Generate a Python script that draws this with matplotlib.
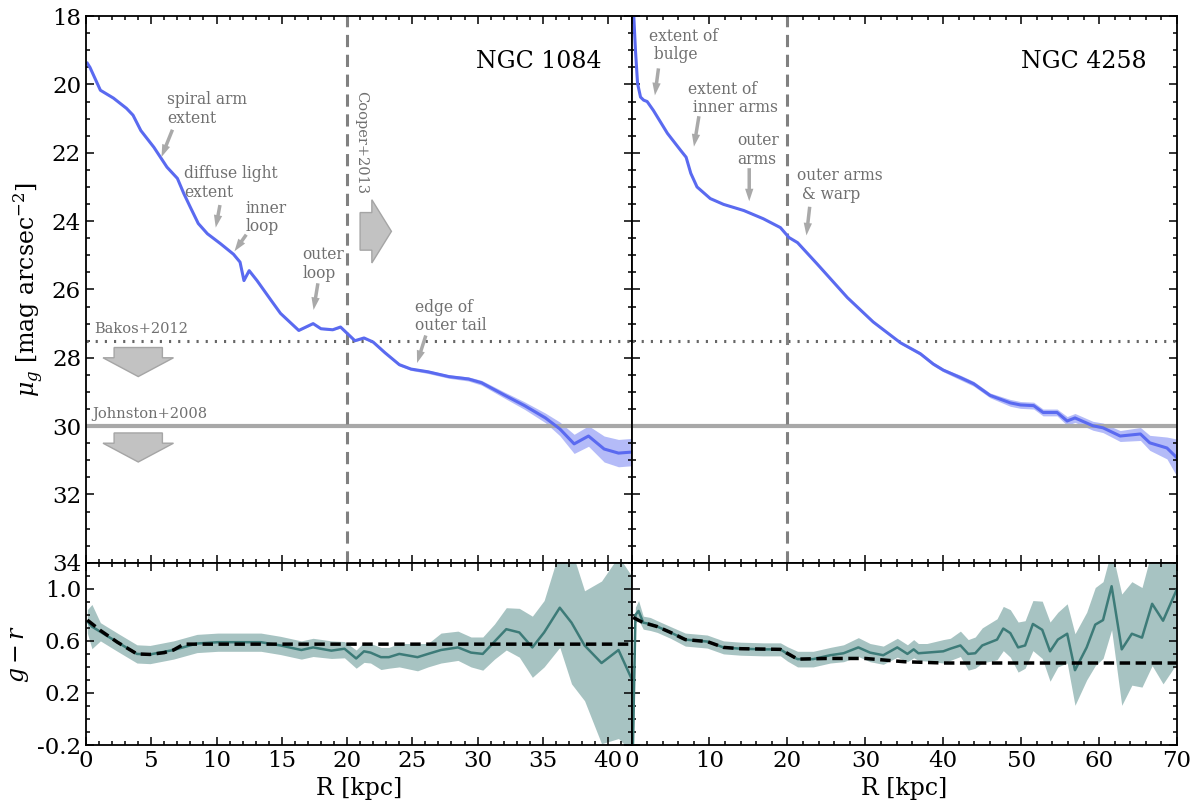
import matplotlib
matplotlib.use("Agg")
import matplotlib.pyplot as plt
import numpy as np
from matplotlib.ticker import MultipleLocator

plt.rcParams.update({
    "font.family": "serif",
    "font.serif": ["DejaVu Serif"],
    "mathtext.fontset": "dejavuserif",
    "axes.unicode_minus": False,
    "xtick.direction": "in",
    "ytick.direction": "in",
    "xtick.top": True,
    "ytick.right": True,
    "xtick.major.size": 6,
    "ytick.major.size": 6,
    "xtick.minor.size": 3,
    "ytick.minor.size": 3,
    "axes.linewidth": 1.3,
})

# --- NGC 1084 surface brightness profile ---
r_1084 = [0.1, 0.3, 1.1, 2.1, 3.1, 3.6, 4.2, 5.2, 6.2, 7.0, 7.5, 8.0, 8.6, 9.3, 10.3,
          11.3, 11.8, 12.1, 12.5, 13.1, 14.2, 14.9, 16.3, 17.4, 18.0, 18.9, 19.5, 20.6,
          21.3, 22.0, 22.9, 24.0, 24.9, 26.2, 27.8, 29.3, 30.3, 32.1, 33.6, 35.2, 36.3,
          37.4, 38.5, 39.7, 40.8, 41.8]
mu_1084 = [19.38, 19.5, 20.17, 20.4, 20.7, 20.9, 21.35, 21.84, 22.42, 22.75, 23.2, 23.6,
           24.07, 24.37, 24.66, 24.97, 25.2, 25.74, 25.45, 25.74, 26.33, 26.7, 27.2, 27.0,
           27.15, 27.18, 27.1, 27.5, 27.42, 27.54, 27.85, 28.2, 28.33, 28.41, 28.55, 28.62,
           28.73, 29.1, 29.4, 29.76, 30.08, 30.52, 30.29, 30.67, 30.79, 30.76]
mu_err_1084 = [0.02] * 26 + [0.03, 0.03, 0.03, 0.03, 0.03, 0.04, 0.04, 0.05, 0.05, 0.06,
                             0.07, 0.09, 0.11, 0.14, 0.2, 0.28, 0.3, 0.38, 0.4, 0.4]

# --- NGC 4258 surface brightness profile ---
r_4258 = [0.2, 0.5, 0.77, 1.15, 1.55, 2.0, 2.8, 4.6, 6.3, 7.0, 7.6, 8.4, 10.1, 11.8, 14.4,
          16.9, 19.1, 20.2, 21.3, 23.8, 27.7, 31.0, 34.5, 37.05, 38.7, 40.0, 42.2, 43.9,
          46.0, 48.6, 49.9, 51.6, 52.8, 54.6, 55.9, 56.9, 59.2, 60.5, 62.7, 65.3, 66.5,
          68.7, 70.0]
mu_4258 = [17.6, 19.0, 19.97, 20.37, 20.46, 20.5, 20.76, 21.43, 21.93, 22.13, 22.6, 23.0,
           23.34, 23.51, 23.69, 23.93, 24.19, 24.48, 24.63, 25.25, 26.24, 26.95, 27.56,
           27.88, 28.18, 28.36, 28.58, 28.76, 29.1, 29.32, 29.38, 29.4, 29.6, 29.6, 29.85,
           29.76, 29.99, 30.05, 30.29, 30.23, 30.49, 30.64, 30.93]
mu_err_4258 = [0.02] * 21 + [0.03, 0.03, 0.05, 0.05, 0.05, 0.07, 0.07, 0.07, 0.1, 0.1,
                             0.1, 0.1, 0.1, 0.13, 0.13, 0.13, 0.14, 0.16, 0.19, 0.22,
                             0.32, 0.55]

# --- NGC 1084 g-r colour profile ---
rc_1084 = [0.1, 0.45, 1.1, 2.4, 3.9, 4.9, 6.7, 8.5, 10.1, 13.4, 14.9, 16.5, 17.4, 18.8,
           19.8, 20.7, 21.3, 21.8, 22.6, 23.2, 24.0, 25.4, 26.2, 27.2, 28.5, 29.5, 30.4,
           31.3, 32.2, 33.2, 34.2, 35.1, 36.3, 37.2, 38.2, 39.5, 40.8, 41.8]
gr_1084 = [0.75, 0.71, 0.67, 0.59, 0.50, 0.496, 0.53, 0.58, 0.59, 0.59, 0.565, 0.53, 0.55,
           0.525, 0.54, 0.465, 0.52, 0.51, 0.475, 0.475, 0.50, 0.475, 0.50, 0.53, 0.55,
           0.51, 0.50, 0.595, 0.69, 0.665, 0.55, 0.665, 0.855, 0.74, 0.565, 0.43, 0.53, 0.31]
gr_lo_1084 = [0.66, 0.54, 0.60, 0.52, 0.43, 0.425, 0.46, 0.51, 0.52, 0.52, 0.495, 0.46,
              0.48, 0.465, 0.47, 0.39, 0.435, 0.43, 0.38, 0.39, 0.40, 0.37, 0.40, 0.43,
              0.45, 0.40, 0.375, 0.46, 0.53, 0.475, 0.32, 0.40, 0.55, 0.27, 0.14, -0.19,
              -0.15, -0.25]
gr_hi_1084 = [0.84, 0.88, 0.74, 0.66, 0.57, 0.565, 0.60, 0.65, 0.66, 0.66, 0.635, 0.60,
              0.62, 0.60, 0.595, 0.53, 0.59, 0.58, 0.55, 0.55, 0.58, 0.58, 0.58, 0.66,
              0.675, 0.63, 0.63, 0.73, 0.855, 0.85, 0.79, 0.91, 1.3, 1.3, 0.985, 1.06,
              1.25, 1.1]
rfit_1084 = [0.1, 1.1, 2.4, 3.9, 4.9, 6.0, 6.7, 7.5, 41.8]
grfit_1084 = [0.76, 0.68, 0.59, 0.50, 0.496, 0.51, 0.53, 0.575, 0.575]

# --- NGC 4258 g-r colour profile ---
rc_4258 = [0.05, 0.5, 0.9, 1.5, 2.4, 3.3, 5.0, 6.9, 9.7, 11.8, 14.0, 16.9, 19.1, 20.0,
           21.3, 23.3, 25.5, 27.2, 29.1, 30.6, 32.3, 34.1, 35.4, 36.2, 36.8, 37.9, 40.0,
           40.9, 42.2, 43.2, 44.1, 45.0, 46.9, 47.7, 48.6, 49.6, 50.5, 51.5, 52.7, 53.7,
           54.7, 55.9, 56.9, 58.4, 59.5, 60.5, 61.6, 62.9, 64.2, 65.5, 66.8, 68.2, 70.0]
gr_4258 = [-0.6, 0.80, 0.83, 0.74, 0.73, 0.71, 0.665, 0.61, 0.595, 0.55, 0.54, 0.535,
           0.535, 0.50, 0.46, 0.46, 0.49, 0.505, 0.55, 0.51, 0.49, 0.55, 0.50, 0.535, 0.505,
           0.51, 0.52, 0.54, 0.565, 0.50, 0.505, 0.565, 0.61, 0.695, 0.66, 0.55, 0.565,
           0.73, 0.685, 0.52, 0.61, 0.655, 0.375, 0.55, 0.725, 0.76, 1.02, 0.535, 0.655,
           0.625, 0.885, 0.755, 1.0]
gr_lo_4258 = [-0.9, 0.74, 0.76, 0.69, 0.68, 0.665, 0.62, 0.56, 0.545, 0.50, 0.49, 0.485,
              0.485, 0.445, 0.40, 0.40, 0.43, 0.44, 0.48, 0.44, 0.42, 0.475, 0.44, 0.47,
              0.45, 0.445, 0.43, 0.45, 0.48, 0.375, 0.39, 0.43, 0.455, 0.525, 0.475, 0.36,
              0.39, 0.525, 0.465, 0.29, 0.40, 0.43, 0.105, 0.30, 0.41, 0.465, 0.685, 0.105,
              0.26, 0.245, 0.41, 0.27, 0.43]
gr_hi_4258 = [0.2, 0.86, 0.91, 0.79, 0.78, 0.755, 0.71, 0.66, 0.645, 0.60, 0.59, 0.585,
              0.585, 0.555, 0.52, 0.52, 0.55, 0.57, 0.625, 0.58, 0.56, 0.62, 0.57, 0.61,
              0.58, 0.58, 0.61, 0.62, 0.675, 0.61, 0.63, 0.70, 0.77, 0.865, 0.84, 0.745,
              0.755, 0.91, 0.905, 0.745, 0.82, 0.885, 0.655, 0.82, 1.01, 1.055, 1.3, 0.96,
              1.055, 1.01, 1.3, 1.3, 1.3]
rfit_4258 = [0.2, 1.5, 3.3, 5.0, 6.9, 9.7, 11.8, 14.0, 19.1, 21.3, 25.0, 30.0, 35.0, 40.0, 70.0]
grfit_4258 = [0.78, 0.74, 0.71, 0.665, 0.61, 0.595, 0.55, 0.54, 0.535, 0.46, 0.465, 0.465,
              0.44, 0.43, 0.43]

BLUE = "#5a6af0"
TEAL = "#3d7b78"
GREY = "#808080"
TXT = "#707070"

fig, axes = plt.subplots(2, 2, figsize=(11.95, 8.05), dpi=100, sharex="col",
                         gridspec_kw=dict(height_ratios=[3, 1], hspace=0, wspace=0))
fig.subplots_adjust(left=0.072, right=0.985, top=0.980, bottom=0.0745)

profiles = [(r_1084, mu_1084, mu_err_1084), (r_4258, mu_4258, mu_err_4258)]
colours = [(rc_1084, gr_1084, gr_lo_1084, gr_hi_1084, rfit_1084, grfit_1084),
           (rc_4258, gr_4258, gr_lo_4258, gr_hi_4258, rfit_4258, grfit_4258)]
names = ["NGC 1084", "NGC 4258"]
xmax = [41.8, 70]

for j in range(2):
    ax, axc = axes[0, j], axes[1, j]
    r, mu, err = (np.array(a) for a in profiles[j])
    ax.axhline(27.5, color="#666666", lw=2.2, ls=(0, (0.7, 2.3)))
    ax.axhline(30, color="#a8a8a8", lw=3)
    ax.axvline(20, color=GREY, lw=2.2, ls=(0, (4, 2.5)))
    ax.fill_between(r, mu - err, mu + err, color=BLUE, alpha=0.45, lw=0)
    ax.plot(r, mu, color=BLUE, lw=2.2)
    ax.text(0.945, 0.905, names[j], transform=ax.transAxes, ha="right", va="baseline",
            fontsize=17)
    ax.set_ylim(34, 18)
    ax.yaxis.set_major_locator(MultipleLocator(2))
    ax.yaxis.set_minor_locator(MultipleLocator(0.5))

    rc, gr, lo, hi, rf, gf = colours[j]
    axc.fill_between(rc, lo, hi, color=TEAL, alpha=0.45, lw=0)
    axc.plot(rc, gr, color=TEAL, lw=1.8)
    axc.plot(rf, gf, color="black", lw=2.5, ls=(0, (3, 1.6)))
    axc.set_ylim(-0.2, 1.2)
    axc.set_yticks([-0.2, 0.2, 0.6, 1.0])
    axc.yaxis.set_minor_locator(MultipleLocator(0.1))
    axc.set_xlim(0, xmax[j])
    axc.set_xlabel("R [kpc]", fontsize=17)

    for a in (ax, axc):
        a.tick_params(which="both", labelsize=16.5, width=1.1)
    if j == 1:
        ax.tick_params(labelleft=False)
        axc.tick_params(labelleft=False)

axes[0, 0].xaxis.set_major_locator(MultipleLocator(5))
axes[0, 0].xaxis.set_minor_locator(MultipleLocator(1))
axes[0, 1].xaxis.set_major_locator(MultipleLocator(10))
axes[0, 1].xaxis.set_minor_locator(MultipleLocator(2))
axes[0, 0].set_ylabel(r"$\mu_g$ [mag arcsec$^{-2}$]", fontsize=17)
axes[1, 0].set_ylabel(r"$g-r$", fontsize=17)

# reference limits and arrows on the NGC 1084 panel
ax = axes[0, 0]
afc, aec = "#c2c2c2", "#a5a5a5"
ax.text(0.6, 27.27, "Bakos+2012", color=TXT, fontsize=10.5, va="baseline")
ax.text(0.5, 29.76, "Johnston+2008", color=TXT, fontsize=10.5, va="baseline")
ax.text(21.1, 20.2, "Cooper+2013", color=TXT, fontsize=10.5, rotation=270,
        ha="center", va="top")
for y0 in (27.7, 30.2):
    ax.arrow(4.0, y0, 0, 0.85, width=3.7, head_width=5.4, head_length=0.55,
             length_includes_head=True, fc=afc, ec=aec, lw=1)
ax.arrow(21.0, 24.3, 2.4, 0, width=1.1, head_width=1.85, head_length=1.5,
         length_includes_head=True, fc=afc, ec=aec, lw=1)

aprops = dict(arrowstyle="simple,head_length=0.9,head_width=0.6,tail_width=0.25",
              mutation_scale=10, color="#a0a0a0", alpha=0.9, lw=0)

notes_1084 = [("spiral arm\nextent", (6.2, 20.2), (6.7, 21.25), (5.7, 22.2)),
              ("diffuse light\nextent", (7.5, 22.37), (10.3, 23.45), (9.9, 24.27)),
              ("inner\nloop", (12.2, 23.37), (12.4, 24.33), (11.25, 24.95)),
              ("outer\nloop", (16.6, 24.74), (17.8, 25.74), (17.4, 26.68)),
              ("edge of\nouter tail", (25.2, 26.27), (26.1, 27.27), (25.3, 28.23))]
notes_4258 = [("extent of\n bulge", (2.2, 18.35), (3.5, 19.45), (2.95, 20.4)),
              ("extent of\n inner arms", (7.2, 19.9), (8.7, 20.85), (7.95, 21.9)),
              ("outer\narms", (13.6, 21.4), (15.1, 22.37), (15.1, 23.5)),
              ("outer arms\n & warp", (21.2, 22.43), (22.9, 23.5), (22.4, 24.5))]

for a, notes in ((axes[0, 0], notes_1084), (axes[0, 1], notes_4258)):
    for label, txy, start, tip in notes:
        a.text(txy[0], txy[1], label, color=TXT, fontsize=11.2, ha="left", va="top",
               linespacing=1.1)
        a.annotate("", xy=tip, xytext=start, arrowprops=aprops)

fig.savefig("out.png", dpi=100)
